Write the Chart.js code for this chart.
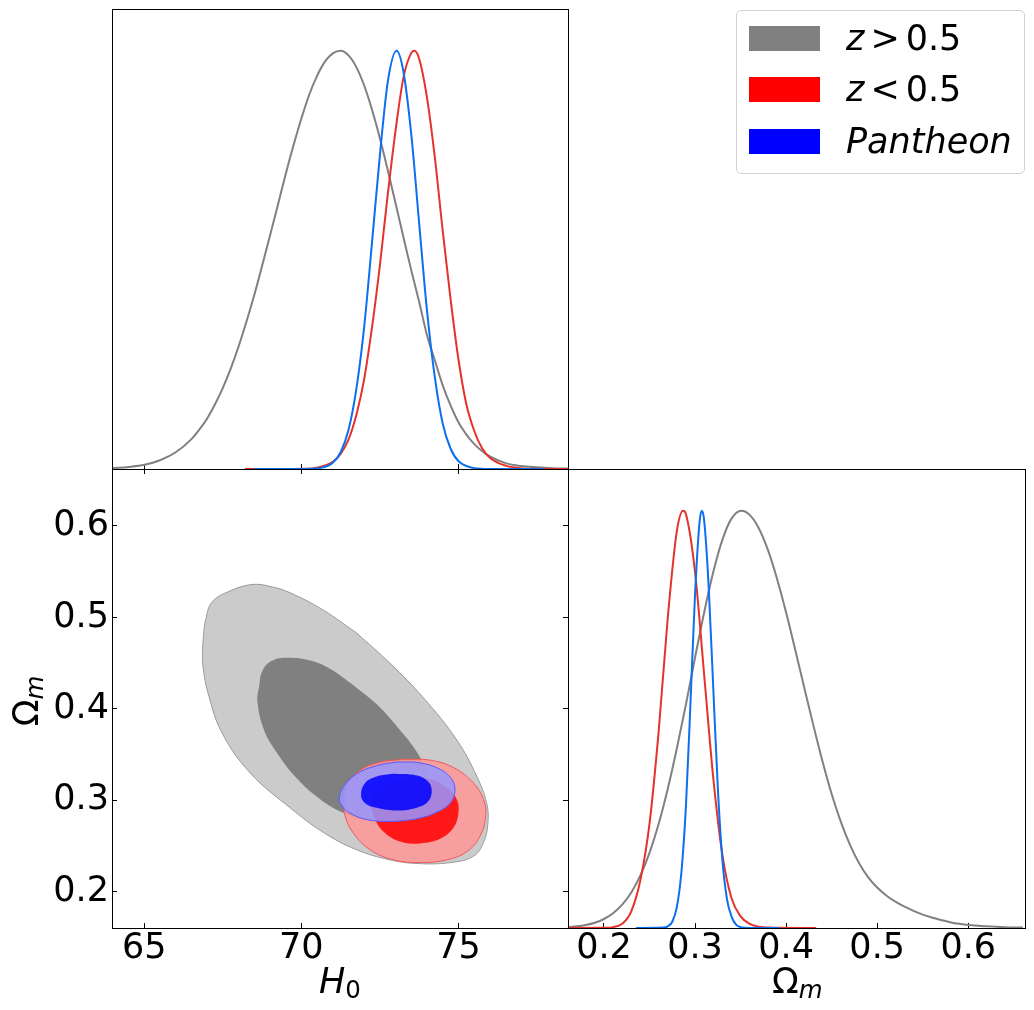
<!DOCTYPE html>
<html>
<head>
<meta charset="utf-8">
<title>H0 - Omega_m</title>
<script src="https://cdn.jsdelivr.net/npm/chart.js@4.4.1/dist/chart.umd.min.js"></script>
<style>
  body { margin: 0; background: #fff; }
  #page { position: relative; width: 1034px; height: 1010px; overflow: hidden; font-family: 'DejaVu Sans', sans-serif; color: #000; }
  #page canvas { position: absolute; left: 0; top: 0; }
  .axis-title { position: absolute; font-size: 35px; line-height: 35px; white-space: nowrap; }
  .sub { font-size: 24.5px; position: relative; top: 4.7px; }
  #legend { position: absolute; left: 736px; top: 10px; width: 289px; height: 164px; box-sizing: border-box;
            border: 1px solid #d0d0d0; border-radius: 5px; background: rgba(255,255,255,0.8); }
  .leg-row { position: absolute; left: 12px; height: 25px; display: flex; align-items: center;
             font-size: 35px; line-height: 35px; white-space: nowrap; }
  .leg-patch { width: 71px; height: 25px; margin-right: 26px; }
  .rel { margin: 0 6px; }
</style>
</head>
<body>
<div id="page">
  <canvas id="chartH0" width="1034" height="1010"></canvas>
  <canvas id="chart2d" width="1034" height="1010"></canvas>
  <canvas id="chartOm" width="1034" height="1010"></canvas>

  <div class="axis-title" style="left:319px; top:964px;"><i>H</i><span class="sub">0</span></div>
  <div class="axis-title" style="left:772px; top:964px;">Ω<span class="sub"><i>m</i></span></div>
  <div class="axis-title" style="left:-12px; top:682px; width:80px; text-align:center; transform:rotate(-90deg);">Ω<span class="sub"><i>m</i></span></div>

  <div id="legend">
    <div class="leg-row" style="top:15px;"><div class="leg-patch" style="background:#808080;"></div><span><i>z</i><span class="rel">&gt;</span>0.5</span></div>
    <div class="leg-row" style="top:66px;"><div class="leg-patch" style="background:#ff0000;"></div><span><i>z</i><span class="rel">&lt;</span>0.5</span></div>
    <div class="leg-row" style="top:118px;"><div class="leg-patch" style="background:#0000ff;"></div><span><i>Pantheon</i></span></div>
  </div>
</div>

<script>
// --- Axis ranges and ticks ---
const h0Range = [63.97, 78.49];
const omRange = [0.1605, 0.6623];
const densRange = [0, 1.1];
const h0Ticks = [65, 70, 75];
const omTicks = [0.2, 0.3, 0.4, 0.5, 0.6];

// --- 1D marginal: H0 ---
const h0GrayX = [64, 64.5, 65, 65.5, 66, 66.5, 66.75, 67, 67.25, 67.5, 67.75, 68, 68.25, 68.5, 68.75, 69, 69.25, 69.5, 69.75, 70, 70.25, 70.5, 70.75, 71, 71.25,
                 71.5, 71.75, 72, 72.25, 72.5, 72.75, 73, 73.25, 73.5, 73.75, 74, 74.25, 74.5, 74.75, 75, 75.25, 75.5, 75.75, 76, 76.5, 77, 77.5, 78, 78.5];
const h0GrayY = [0.002, 0.005, 0.01, 0.021, 0.04, 0.0715, 0.094, 0.121, 0.155, 0.194, 0.24, 0.293, 0.352, 0.416, 0.486, 0.558, 0.631, 0.705, 0.774, 0.838, 0.895, 0.94, 0.974, 0.994, 1.0,
                 0.989, 0.961, 0.917, 0.859, 0.791, 0.715, 0.635, 0.554, 0.475, 0.40, 0.32, 0.26, 0.2, 0.152, 0.112, 0.083, 0.06, 0.043, 0.03, 0.014, 0.007, 0.004, 0.002, 0.001];

const h0RedX = [68.2, 69, 69.5, 70, 70.5, 71, 71.25, 71.5, 71.75, 72, 72.25, 72.5, 72.75, 73, 73.25, 73.5, 73.6, 73.75, 74, 74.25, 74.5, 74.75, 75, 75.25, 75.5, 75.75, 76, 76.5, 77, 77.5, 78, 78.5];
const h0RedY = [0, 0, 0.0001, 0.0005, 0.003, 0.017, 0.036, 0.07, 0.129, 0.215, 0.339, 0.487, 0.656, 0.81, 0.936, 0.995, 1.0, 0.981, 0.888, 0.745, 0.57, 0.407, 0.263, 0.156, 0.092, 0.05, 0.027, 0.008, 0.002, 0.0005, 0, 0];

const h0BlueX = [68.5, 69.5, 70, 70.5, 71, 71.25, 71.5, 71.75, 72, 72.25, 72.5, 72.75, 73.03, 73.25, 73.5, 73.75, 74, 74.25, 74.5, 74.75, 75, 75.5, 76, 77.7];
const h0BlueY = [0, 0, 0.0002, 0.0015, 0.015, 0.04, 0.093, 0.191, 0.34, 0.542, 0.75, 0.925, 1.0, 0.95, 0.80, 0.588, 0.379, 0.219, 0.109, 0.049, 0.019, 0.002, 0, 0];

// --- 1D marginal: Omega_m ---
const omGrayX = [0.16, 0.17, 0.18, 0.19, 0.2, 0.21, 0.22, 0.23, 0.24, 0.25, 0.26, 0.27, 0.28, 0.29, 0.3, 0.31, 0.32, 0.33, 0.34, 0.351,
                 0.36, 0.37, 0.38, 0.39, 0.4, 0.41, 0.42, 0.43, 0.44, 0.45, 0.46, 0.47, 0.48, 0.49, 0.5, 0.51, 0.52, 0.53, 0.54, 0.55, 0.56, 0.57, 0.58, 0.59, 0.6, 0.62, 0.64, 0.66];
const omGrayY = [0.002, 0.004, 0.0073, 0.0127, 0.0216, 0.0353, 0.0558, 0.0853, 0.126, 0.18, 0.249, 0.333, 0.43, 0.536, 0.648, 0.756, 0.853, 0.93, 0.981, 1.0,
                 0.99, 0.958, 0.906, 0.837, 0.756, 0.667, 0.575, 0.485, 0.399, 0.321, 0.255, 0.200, 0.156, 0.122, 0.097, 0.078, 0.063, 0.051, 0.041, 0.032, 0.025, 0.019, 0.014, 0.01, 0.007, 0.004, 0.002, 0.001];

const omRedX = [0.16, 0.2, 0.21, 0.22, 0.23, 0.24, 0.25, 0.26, 0.27, 0.28, 0.287, 0.29, 0.3, 0.31, 0.32, 0.33, 0.34, 0.35, 0.36, 0.37, 0.38, 0.433];
const omRedY = [0, 0.0004, 0.002, 0.01, 0.04, 0.115, 0.25, 0.47, 0.742, 0.951, 1.0, 0.992, 0.853, 0.607, 0.36, 0.176, 0.072, 0.028, 0.01, 0.003, 0.001, 0];

const omBlueX = [0.235, 0.265, 0.27, 0.275, 0.28, 0.285, 0.29, 0.295, 0.3, 0.305, 0.3075, 0.31, 0.315, 0.32, 0.325, 0.33, 0.335, 0.34, 0.345, 0.35, 0.36, 0.393];
const omBlueY = [0, 0.001, 0.004, 0.015, 0.05, 0.133, 0.292, 0.54, 0.80, 0.974, 1.0, 0.977, 0.816, 0.575, 0.336, 0.164, 0.07, 0.028, 0.008, 0.002, 0, 0];

// --- 2D contours (H0, Omega_m), 68% and 95% ---
const grayOuterH0 = [71.76, 72.82, 73.89, 74.95, 75.59, 75.90, 75.94, 75.80, 75.48, 74.74, 73.68, 72.82, 71.76, 70.70, 69.64, 68.37, 67.47, 67.03, 66.88, 66.85, 66.885, 66.95, 67.16, 67.73, 68.42, 69.00, 69.64, 70.70];
const grayOuterOm = [0.483, 0.450, 0.412, 0.366, 0.326, 0.297, 0.275, 0.254, 0.239, 0.232, 0.231, 0.235, 0.246, 0.265, 0.292, 0.330, 0.374, 0.417, 0.443, 0.459, 0.480, 0.497, 0.517, 0.529, 0.536, 0.534, 0.527, 0.508];
const grayInnerH0 = [71.66, 72.40, 73.09, 73.62, 73.92, 73.97, 73.78, 73.36, 72.72, 71.97, 71.23, 70.49, 69.80, 69.22, 68.81, 68.60, 68.66, 68.75, 69.03, 69.48, 70.28, 70.91];
const grayInnerOm = [0.426, 0.405, 0.379, 0.356, 0.336, 0.321, 0.301, 0.286, 0.278, 0.279, 0.288, 0.304, 0.326, 0.352, 0.377, 0.408, 0.426, 0.441, 0.452, 0.456, 0.453, 0.444];

const redOuterH0 = [73.25, 74.10, 74.84, 75.48, 75.80, 75.87, 75.69, 75.27, 74.63, 73.78, 72.93, 72.19, 71.66, 71.39, 71.37, 71.45, 71.76, 72.40];
const redOuterOm = [0.345, 0.344, 0.336, 0.319, 0.301, 0.283, 0.261, 0.244, 0.235, 0.232, 0.235, 0.246, 0.264, 0.283, 0.297, 0.315, 0.330, 0.341];
const redInnerH0 = [73.46, 74.10, 74.63, 74.95, 75.00, 74.84, 74.42, 73.78, 73.14, 72.61, 72.33, 72.24, 72.40, 72.82];
const redInnerOm = [0.325, 0.323, 0.314, 0.301, 0.286, 0.270, 0.258, 0.253, 0.255, 0.266, 0.281, 0.297, 0.312, 0.321];

const blueOuterH0 = [73.04, 73.78, 74.42, 74.79, 74.89, 74.74, 74.31, 73.68, 72.82, 72.08, 71.55, 71.29, 71.21, 71.34, 71.76, 72.40];
const blueOuterOm = [0.342, 0.341, 0.334, 0.323, 0.310, 0.297, 0.287, 0.280, 0.277, 0.279, 0.286, 0.294, 0.302, 0.315, 0.329, 0.338];
const blueInnerH0 = [72.93, 73.57, 73.99, 74.15, 74.04, 73.68, 73.04, 72.40, 72.03, 71.90, 72.03, 72.40];
const blueInnerOm = [0.329, 0.328, 0.322, 0.312, 0.299, 0.292, 0.289, 0.292, 0.297, 0.306, 0.319, 0.326];

// --- Colours ---
const grayLine = '#808080';
const redLine = '#e5322a';
const blueLine = '#0b6ff0';

const FONT = { family: 'DejaVu Sans', size: 35 };

// --- Helpers ---
function makeAxis(position, range, tickValues, opts) {
    return {
        type: 'linear',
        position: position,
        min: range[0],
        max: range[1],
        afterBuildTicks: (scale) => { scale.ticks = tickValues.map(v => ({ value: v })); },
        afterFit: (scale) => {
            if (scale.isHorizontal()) scale.height = opts.size || 0;
            else scale.width = opts.size || 0;
        },
        border: { display: true, color: '#000', width: 1, z: 1 },
        grid: { display: !!opts.marks, drawOnChartArea: false, drawTicks: true, tickLength: -5, tickColor: '#000', tickWidth: 1 },
        ticks: {
            display: !!opts.labels, padding: opts.pad || 0, color: '#000', font: FONT,
            autoSkip: false, maxRotation: 0, minRotation: 0,
            callback: (v) => String(v)
        }
    };
}

function curve(xs, ys, color) {
    return {
        data: xs.map((x, i) => ({ x: x, y: ys[i] })),
        showLine: true,
        borderColor: color,
        borderWidth: 2,
        pointRadius: 0,
        cubicInterpolationMode: 'monotone',
        fill: false
    };
}

function contour(hs, os, fillColor, edgeColor) {
    const pts = hs.map((h, i) => ({ x: h, y: os[i] }));
    pts.push(pts[0]);
    return {
        data: pts,
        showLine: true,
        fill: 'shape',
        backgroundColor: fillColor,
        borderColor: edgeColor,
        borderWidth: 1,
        pointRadius: 0,
        tension: 0.4
    };
}

function baseOptions(padding, scales) {
    return {
        responsive: false,
        animation: false,
        events: [],
        layout: { padding: padding },
        plugins: { legend: { display: false }, tooltip: { enabled: false } },
        scales: scales
    };
}

// --- Top left: H0 marginal ---
new Chart(document.getElementById('chartH0'), {
    type: 'scatter',
    data: {
        datasets: [
            curve(h0BlueX, h0BlueY, blueLine),
            curve(h0RedX, h0RedY, redLine),
            curve(h0GrayX, h0GrayY, grayLine)
        ]
    },
    options: baseOptions({ left: 112, top: 9, right: 1034 - 568, bottom: 1010 - 469 }, {
        x: makeAxis('bottom', h0Range, h0Ticks, { marks: true }),
        xTop: makeAxis('top', h0Range, [], {}),
        y: makeAxis('left', densRange, [], {}),
        yRight: makeAxis('right', densRange, [], {})
    })
});

// --- Bottom left: 2D contours (first dataset is drawn on top) ---
new Chart(document.getElementById('chart2d'), {
    type: 'scatter',
    data: {
        datasets: [
            contour(blueInnerH0, blueInnerOm, 'rgba(0,0,255,0.85)', 'rgba(0,0,0,0)'),
            contour(blueOuterH0, blueOuterOm, 'rgba(150,150,255,0.85)', '#5a5aff'),
            contour(redInnerH0, redInnerOm, 'rgba(255,0,0,0.85)', 'rgba(0,0,0,0)'),
            contour(redOuterH0, redOuterOm, 'rgba(255,152,152,0.85)', '#f25858'),
            contour(grayInnerH0, grayInnerOm, '#808080', 'rgba(0,0,0,0)'),
            contour(grayOuterH0, grayOuterOm, '#cbcbcb', '#9a9a9a')
        ]
    },
    options: baseOptions({ left: 0, top: 469, right: 1034 - 568, bottom: 0 }, {
        x: makeAxis('bottom', h0Range, h0Ticks, { marks: true, labels: true, size: 82, pad: 5 }),
        xTop: makeAxis('top', h0Range, h0Ticks, { marks: true }),
        y: makeAxis('left', omRange, omTicks, { marks: true, labels: true, size: 112, pad: 8 }),
        yRight: makeAxis('right', omRange, omTicks, { marks: true })
    })
});

// --- Bottom right: Omega_m marginal ---
new Chart(document.getElementById('chartOm'), {
    type: 'scatter',
    data: {
        datasets: [
            curve(omBlueX, omBlueY, blueLine),
            curve(omRedX, omRedY, redLine),
            curve(omGrayX, omGrayY, grayLine)
        ]
    },
    options: baseOptions({ left: 568, top: 469, right: 1034 - 1025, bottom: 0 }, {
        x: makeAxis('bottom', omRange, omTicks, { marks: true, labels: true, size: 82, pad: 5 }),
        xTop: makeAxis('top', omRange, [], {}),
        y: makeAxis('left', densRange, [], {}),
        yRight: makeAxis('right', densRange, [], {})
    })
});
</script>
</body>
</html>
